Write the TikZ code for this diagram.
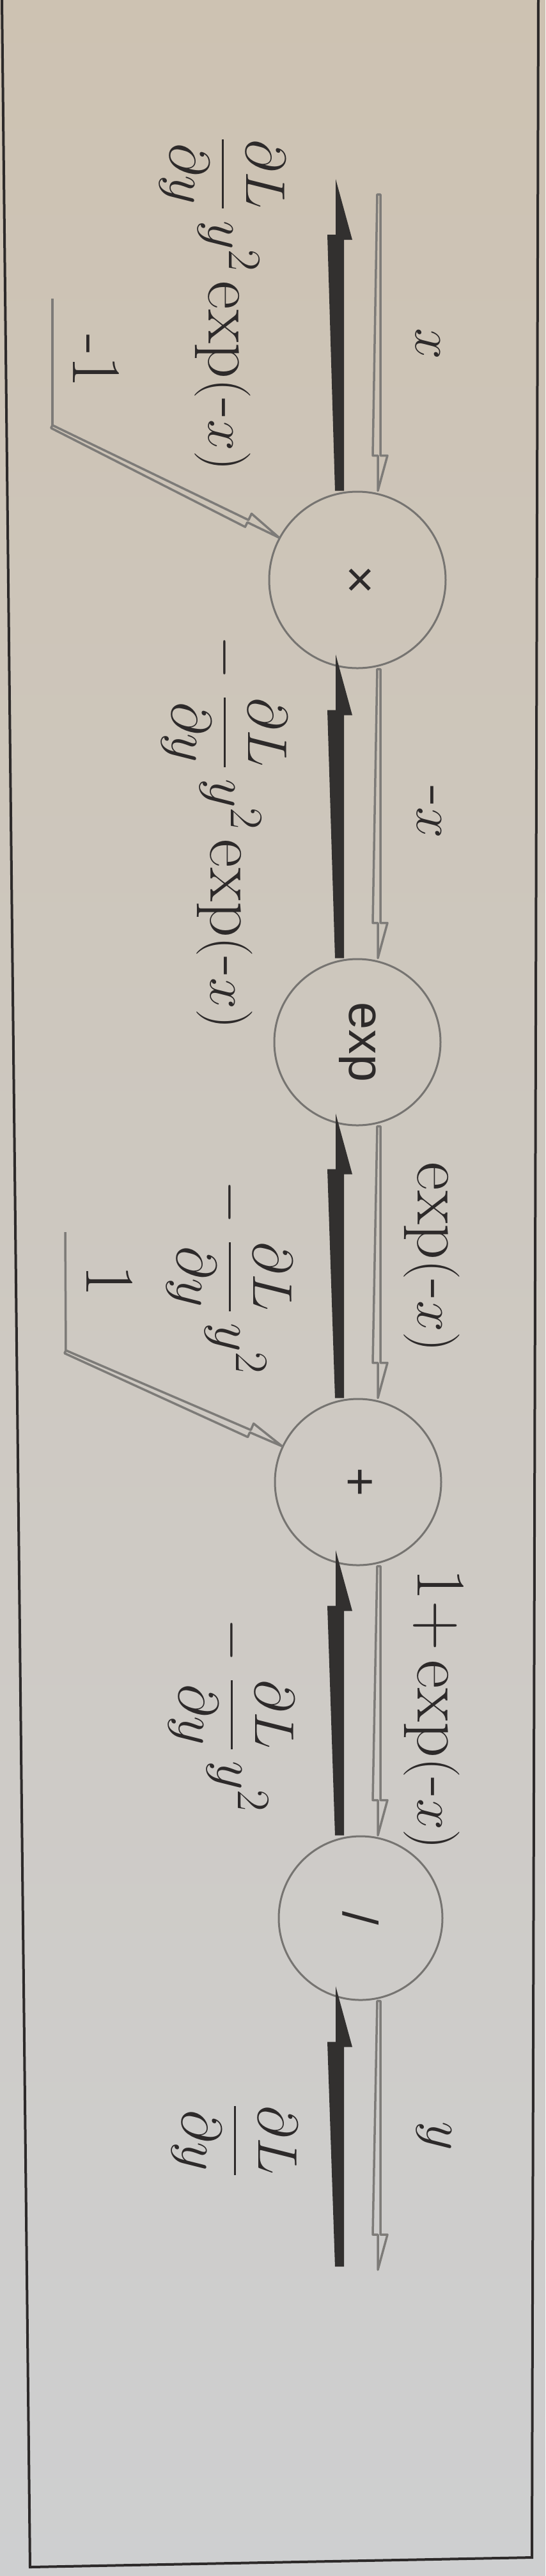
\documentclass[tikz,border=0pt]{standalone}
\usepackage{amsmath}
\usepackage{fontspec}
\usepackage{tikz}
\usetikzlibrary{calc}

\newfontfamily\opfont{Liberation Sans}

\definecolor{paperTop}{RGB}{205,194,178}
\definecolor{paperMid}{RGB}{222,220,214}
\definecolor{paperBot}{RGB}{206,207,208}
\definecolor{ink}{RGB}{45,42,42}
\definecolor{gradink}{RGB}{50,48,47}
\definecolor{valink}{RGB}{125,123,120}
\definecolor{circink}{RGB}{118,116,113}

% backward pass: filled half-arrow, tail -> tip
\newcommand{\bwdarrow}[2]{%
  \fill[bwd] (#1) -- ($(#1)!0.14cm!90:(#2)$)
    -- ($(#2)!0.87cm!(#1)!0.26cm!-90:(#1)$)
    -- ($(#2)!0.87cm!(#1)!0.13cm!-90:(#1)$)
    -- ($(#2)!0.13cm!-90:(#1)$)
    -- ($(#2)!0.95cm!(#1)!0.13cm!90:(#1)$)
    -- ($(#2)!0.95cm!(#1)$) -- cycle;}
% forward pass: hollow half-arrow, tail -> tip
\newcommand{\fwdarrow}[2]{%
  \draw[fwd] (#1) -- ($(#1)!0.05cm!-90:(#2)$)
    -- ($(#2)!0.55cm!(#1)!0.12cm!90:(#1)$)
    -- ($(#2)!0.55cm!(#1)!0.04cm!90:(#1)$)
    -- ($(#2)!0.04cm!90:(#1)$)
    -- ($(#2)!0.55cm!(#1)!0.11cm!-90:(#1)$)
    -- ($(#2)!0.55cm!(#1)$) -- cycle;}

\begin{document}
\begin{tikzpicture}[
    op/.style={circle,draw=circink,line width=0.03cm,minimum size=2.6cm,inner sep=0pt,
      text=ink,font=\opfont\fontsize{22}{26}\selectfont},
    lbl/.style={rotate=-90,text=ink,font=\fontsize{31}{36}\selectfont},
    bwd/.style={fill=gradink},
    fwd/.style={draw=valink,line width=0.035cm,line join=round},
    fwdline/.style={draw=valink,line width=0.035cm},
    frame/.style={draw=ink,line width=0.04cm}]
    \useasboundingbox (0,0) rectangle (8.53,-40.29);
    \shade[top color=paperTop,middle color=paperMid,bottom color=paperBot] (0,0) rectangle (8.53,-40.29);
    \draw[frame] (0.03,0) -- (0.47,-40.15) -- (8.32,-40.00) -- (8.42,0);

    % operations
    \node[op,minimum size=2.76cm] (mul) at (5.59,-9.07) {\rotatebox{-90}{×}};
    \node[op] (ex) at (5.59,-16.30) {\rotatebox{-90}{exp}};
    \node[op] (add) at (5.60,-23.18) {\rotatebox{-90}{+}};
    \node[op,minimum size=2.56cm] (dv) at (5.64,-30.00) {\rotatebox{-90}{/}};

    % the two lanes
    \coordinate (bk) at (5.38,0);
    \coordinate (fw) at (5.95,0);
    \coordinate (xin) at (5.95,-3.04);
    \coordinate (yout) at (5.95,-35.50);
    \coordinate (gin) at (5.38,-2.80);
    \coordinate (gout) at (5.38,-35.45);

    % forward values
    \fwdarrow{xin}{mul.north -| fw}
    \fwdarrow{mul.south -| fw}{ex.north -| fw}
    \fwdarrow{ex.south -| fw}{add.north -| fw}
    \fwdarrow{add.south -| fw}{dv.north -| fw}
    \fwdarrow{dv.south -| fw}{yout}

    % constants fed in from below
    \coordinate (m1) at (0.82,-4.67);
    \coordinate (m1b) at (0.82,-6.65);
    \draw[fwdline] (m1) -- (m1b);
    \fwdarrow{m1b}{mul.150}
    \coordinate (a1) at (1.02,-19.27);
    \coordinate (a1b) at (1.03,-21.12);
    \draw[fwdline] (a1) -- (a1b);
    \fwdarrow{a1b}{add.153}

    % gradients flowing back
    \coordinate (bmul) at ($(mul.south -| bk)+(0,0.23)$);
    \coordinate (bex) at ($(ex.south -| bk)+(0,0.20)$);
    \coordinate (badd) at ($(add.south -| bk)+(0,0.25)$);
    \coordinate (bdv) at ($(dv.south -| bk)+(0,0.23)$);
    \bwdarrow{mul.north -| bk}{gin}
    \bwdarrow{ex.north -| bk}{bmul}
    \bwdarrow{add.north -| bk}{bex}
    \bwdarrow{dv.north -| bk}{badd}
    \bwdarrow{gout}{bdv}

    % values
    \node[lbl,anchor=base] (lx) at (6.50,-5.38) {$x$};
    \node[lbl,anchor=base] (lnx) at (6.52,-12.70) {$\mbox{-}x$};
    \node[lbl,anchor=base] (lex) at (6.53,-19.66) {$\exp(\mbox{-}x)$};
    \node[lbl,anchor=base] (lad) at (6.53,-26.73) {$\mbox{1+}\exp(\mbox{-}x)$};
    \node[lbl,anchor=base] (ly) at (6.68,-33.41) {$y$};

    % gradients
    \node[lbl] (gmx) at (3.48,-4.75) {$\dfrac{\partial L}{\partial y}\,y^2\exp(\mbox{-}x)$};
    \node[lbl] (gnx) at (3.51,-13.02) {$-\;\dfrac{\partial L}{\partial y}\,y^2\exp(\mbox{-}x)$};
    \node[lbl] (gex) at (3.59,-19.98) {$-\;\dfrac{\partial L}{\partial y}\,y^2$};
    \node[lbl] (gad) at (3.62,-26.83) {$-\;\dfrac{\partial L}{\partial y}\,y^2$};
    \node[lbl] (gy) at (3.67,-33.48) {$\dfrac{\partial L}{\partial y}$};
    \node[lbl] (dmx) at (1.51,-5.65) {-1};
    \node[lbl] (dad) at (1.72,-20.03) {1};
\end{tikzpicture}
\end{document}
